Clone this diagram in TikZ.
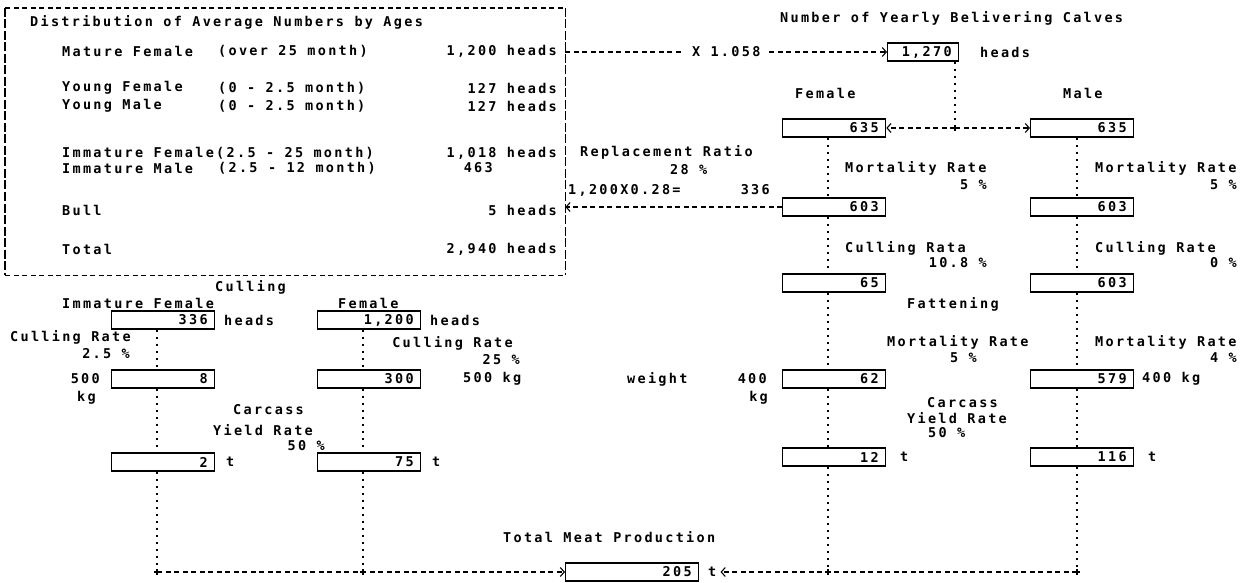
\documentclass[tikz,border=0pt]{standalone}
\usepackage{fontspec}
\newfontfamily\dmfont[LetterSpace=17]{DejaVu Sans Mono}
\usetikzlibrary{arrows.meta}
\begin{document}
\begin{tikzpicture}[x=1pt,y=-1pt,
  every node/.style={font=\dmfont\bfseries\fontsize{13.5}{15}\selectfont, inner sep=0pt, text=black},
  lt/.style={anchor=west},
  rt/.style={anchor=east},
  numbox/.style={draw, line width=1.3pt, minimum height=18pt, text width=#1, align=right, inner xsep=7pt, inner ysep=0pt, anchor=west},
  numbox/.default=89pt,
  dashline/.style={line width=1.1pt, dash pattern=on 5pt off 3.5pt},
  sideline/.style={line width=1.3pt, dash pattern=on 9pt off 2.5pt},
  dotline/.style={line width=1.5pt, dash pattern=on 2.5pt off 4.5pt},
  arr/.style={-{Straight Barb[length=4pt,width=9pt,line width=1.1pt]}},
  plusmark/.style={line width=1.1pt},
]
\useasboundingbox (0,0) rectangle (1248,583);

% distribution box
\node[anchor=north west, minimum width=560pt, minimum height=267pt] (dist) at (5,8) {};
\draw[dashline] (dist.north west) -- (dist.north east);
\draw[dashline] (dist.south west) -- (dist.south east);
\draw[sideline] (dist.north west) -- (dist.south west);
\draw[sideline] (dist.north east) -- (dist.south east);

\node[lt] (title) at (30,22) {Distribution of Average Numbers by Ages};
\node[lt] (mfl) at (62,51) {Mature Female};
\node[lt] (mfp) at (218,51) {(over 25 month)};
\node[rt] (mfv) at (557,51) {1,200 heads};
\node[lt] (yfl) at (62,88) {Young Female};
\node[lt] (yfp) at (218,88) {(0 - 2.5 month)};
\node[rt] (yfv) at (557,88) {127 heads};
\node[lt] (yml) at (62,106) {Young Male};
\node[lt] (ymp) at (218,106) {(0 - 2.5 month)};
\node[rt] (ymv) at (557,106) {127 heads};
\node[lt] (ifl) at (62,153) {Immature Female(2.5 - 25 month)};
\node[rt] (ifv) at (557,153) {1,018 heads};
\node[lt] (iml) at (62,168) {Immature Male};
\node[lt] (imp) at (218,168) {(2.5 - 12 month)};
\node[rt] (imv) at (493,168) {463};
\node[lt] (bul) at (62,210) {Bull};
\node[rt] (buv) at (557,210) {5 heads};
\node[lt] (tol) at (62,249) {Total};
\node[rt] (tov) at (557,249) {2,940 heads};

% replacement
\node[lt] (rr1) at (580,152) {Replacement Ratio};
\node[lt] (rr2) at (670,170) {28 \%};
\node[lt] (rr3) at (568,190) {1,200X0.28=};
\node[rt] (rr4) at (770,190) {336};

% top right
\node[lt] (nyc) at (780,18) {Number of Yearly Belivering Calves};
\node[numbox=57pt] (b1270) at (887,52) {1,270};
\node[lt] (h1270) at (980,52) {heads};
\node[lt] (fem) at (795,93) {Female};
\node[lt] (mal) at (1063,93) {Male};

\node[numbox] (f635) at (782,128) {635};
\node[numbox] (m635) at (1030,128) {635};
\node[numbox] (f603a) at (782,207) {603};
\node[numbox] (m603a) at (1030,207) {603};
\node[numbox] (f65) at (782,283) {65};
\node[numbox] (m603b) at (1030,283) {603};
\node[numbox] (f62) at (782,379) {62};
\node[numbox] (m579) at (1030,379) {579};
\node[numbox] (f12) at (782,457) {12};
\node[numbox] (m116) at (1030,457) {116};

\node[lt] (fmr1) at (845,168) {Mortality Rate};
\node[rt] (fmr2) at (987,185) {5 \%};
\node[lt] (mmr1) at (1095,168) {Mortality Rate};
\node[rt] (mmr2) at (1237,185) {5 \%};
\node[lt] (fcr1) at (845,248) {Culling Rata};
\node[rt] (fcr2) at (987,263) {10.8 \%};
\node[lt] (mcr1) at (1095,248) {Culling Rate};
\node[rt] (mcr2) at (1237,263) {0 \%};
\node[lt] (fat) at (907,304) {Fattening};
\node[lt] (fmr3) at (887,342) {Mortality Rate};
\node[rt] (fmr4) at (977,358) {5 \%};
\node[lt] (mmr3) at (1095,342) {Mortality Rate};
\node[rt] (mmr4) at (1237,358) {4 \%};
\node[lt] (wgt) at (627,379) {weight};
\node[rt] (w400) at (767,379) {400};
\node[rt] (wkg) at (768,398) {kg};
\node[lt] (m400) at (1142,379) {400 kg};
\node[lt] (rcc) at (927,403) {Carcass};
\node[lt] (ryr) at (907,418) {Yield Rate};
\node[lt] (r50) at (928,433) {50 \%};
\node[lt] (ft) at (900,457) {t};
\node[lt] (mt) at (1148,457) {t};

% left bottom
\node[lt] (cul) at (215,287) {Culling};
\node[lt] (imf) at (62,303) {Immature Female};
\node[lt] (lfe) at (338,303) {Female};
\node[numbox] (l336) at (111,320) {336};
\node[numbox] (l1200) at (317,320) {1,200};
\node[lt] (h336) at (224,320) {heads};
\node[lt] (h1200) at (430,320) {heads};
\node[lt] (lcr1) at (10,337) {Culling Rate};
\node[rt] (lcr2) at (130,354) {2.5 \%};
\node[rt] (fcr3) at (513,343) {Culling Rate};
\node[rt] (fcr4) at (520,360) {25 \%};
\node[rt] (l500) at (100,379) {500};
\node[lt] (lkg) at (77,398) {kg};
\node[numbox] (l8) at (111,379) {8};
\node[numbox] (l300) at (317,379) {300};
\node[lt] (r500) at (463,379) {500 kg};
\node[lt] (lcc) at (233,410) {Carcass};
\node[lt] (lyr) at (213,430) {Yield Rate};
\node[rt] (l50) at (325,446) {50 \%};
\node[numbox] (l2) at (111,462) {2};
\node[numbox] (l75) at (317,462) {75};
\node[lt] (l2t) at (226,462) {t};
\node[lt] (l75t) at (432,462) {t};

% total
\node[lt] (tmp) at (503,537) {Total Meat Production};
\node[numbox=119pt] (tot) at (565,572) {205};
\node[lt] (tott) at (708,572) {t};

% columns
\coordinate (cA) at (157,0);
\coordinate (cB) at (363,0);
\coordinate (cF) at (828,0);
\coordinate (cM) at (1077,0);
\coordinate (cJ) at (955,128);
\coordinate (bl) at (0,572);

\draw[dotline] (b1270.south -| cJ) -- (cJ);
\draw[dashline,arr] (cJ) -- (f635.east);
\draw[dashline,arr] (cJ) -- (m635.west);
\draw[dashline,arr] (dist.east |- b1270.west) -- node[fill=white, inner xsep=9pt, inner ysep=4pt] (xlab) {X 1.058} (b1270.west);
\draw[dashline,arr] (f603a.west) -- (dist.east |- f603a.west);

\draw[dotline] (f635.south -| cF) -- (f603a.north -| cF);
\draw[dotline] (f603a.south -| cF) -- (f65.north -| cF);
\draw[dotline] (f65.south -| cF) -- (f62.north -| cF);
\draw[dotline] (f62.south -| cF) -- (f12.north -| cF);
\draw[dotline] (f12.south -| cF) -- (cF |- bl);

\draw[dotline] (m635.south -| cM) -- (m603a.north -| cM);
\draw[dotline] (m603a.south -| cM) -- (m603b.north -| cM);
\draw[dotline] (m603b.south -| cM) -- (m579.north -| cM);
\draw[dotline] (m579.south -| cM) -- (m116.north -| cM);
\draw[dotline] (m116.south -| cM) -- (cM |- bl);

\draw[dotline] (l336.south -| cA) -- (l8.north -| cA);
\draw[dotline] (l8.south -| cA) -- (l2.north -| cA);
\draw[dotline] (l2.south -| cA) -- (cA |- bl);
\draw[dotline] (l1200.south -| cB) -- (l300.north -| cB);
\draw[dotline] (l300.south -| cB) -- (l75.north -| cB);
\draw[dotline] (l75.south -| cB) -- (cB |- bl);

\draw[dashline,arr] (cA |- bl) -- (tot.west);
\draw[dashline,arr] (cM |- bl) -- ([xshift=4pt]tott.east);

% junction marks
\foreach \p in {cJ, cA |- bl, cB |- bl, cF |- bl, cM |- bl}
  \draw[plusmark] ([yshift=-3pt]\p) -- ([yshift=3pt]\p) ([xshift=-3pt]\p) -- ([xshift=3pt]\p);
\end{tikzpicture}
\end{document}
